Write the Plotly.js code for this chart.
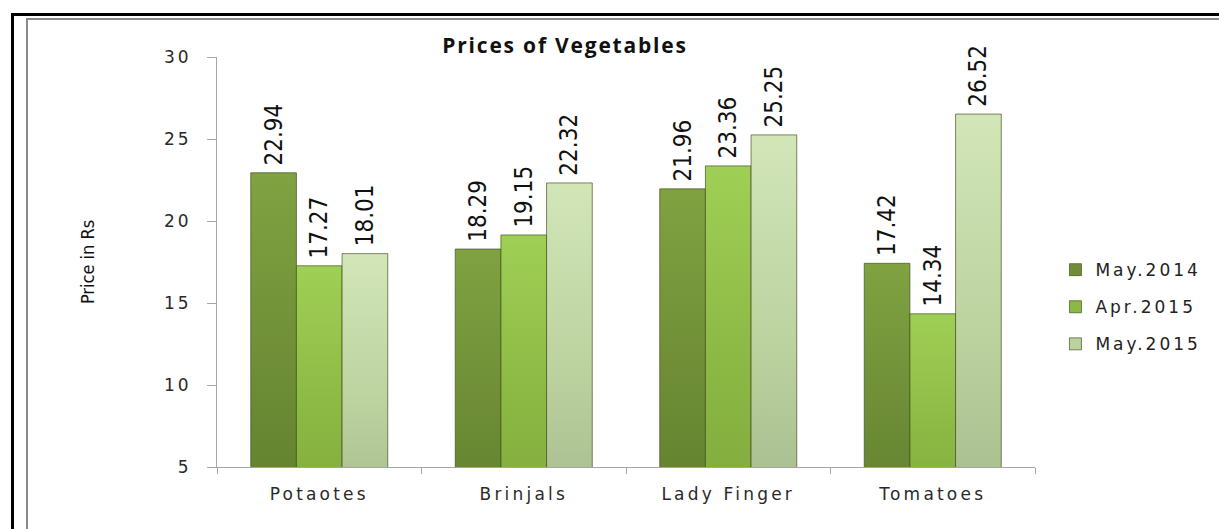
<!DOCTYPE html>
<html>
<head>
<meta charset="utf-8">
<script src="https://cdn.plot.ly/plotly-3.0.1.min.js"></script>
<style>
  html, body { margin:0; padding:0; background:#fff; }
  #wrap { position:relative; width:1219px; height:529px; overflow:hidden; }
  #chart { position:absolute; left:0; top:0; width:1219px; height:529px; }
  .frame1 { position:absolute; left:11px; top:13px; width:1400px; height:700px; border-left:3px solid #000; border-top:3px solid #000; pointer-events:none; }
  .frame2 { position:absolute; left:26px; top:18px; width:1400px; height:700px; border-left:2px solid #8a8a8a; border-top:2px solid #8a8a8a; pointer-events:none; }
  .xtick text { letter-spacing: 3.2px; }
  .legendtext { letter-spacing: 3px; }
  .ytick text { letter-spacing: 3px; }
  .gtitle { letter-spacing: 1.8px; }
</style>
</head>
<body>
<div id="wrap">
  <div id="chart"></div>
  <div class="frame1"></div>
  <div class="frame2"></div>
</div>
<script>
const categories = ["Potaotes", "Brinjals", "Lady Finger", "Tomatoes"];
const seriesNames = ["May.2014", "Apr.2015", "May.2015"];
const may2014 = [22.94, 18.29, 21.96, 17.42];
const apr2015 = [17.27, 19.15, 23.36, 14.34];
const may2015 = [18.01, 22.32, 25.25, 26.52];
const seriesValues = [may2014, apr2015, may2015];
const yTicks = [5, 10, 15, 20, 25, 30];
const colors = ["#6f8e37", "#8cb944", "#bcd29f"];
const gradTop = ["#80a241", "#a0cf55", "#d2e6b8"];
const gradBot = ["#5f7d2b", "#7ea63a", "#a2b689"];

const labelFont = { family: "Liberation Sans Narrow, DejaVu Sans Condensed, Arial Narrow, sans-serif", size: 24, color: "#111" };

const traces = seriesValues.map((vals, i) => ({
  type: "bar",
  name: seriesNames[i],
  x: categories,
  y: vals,
  legendgroup: "g" + i,
  marker: { color: colors[i], line: { color: "rgba(55,75,25,0.65)", width: 1 } },
  text: vals.map(v => "\u2009" + v.toFixed(2)),
  textposition: "outside",
  textangle: -90,
  textfont: labelFont,
  constraintext: "none",
  cliponaxis: false,
  hoverinfo: "x+y+name"
}));

const layout = {
  width: 1219, height: 529,
  margin: { l: 217, r: 184, t: 57, b: 62 },
  paper_bgcolor: "rgba(0,0,0,0)",
  plot_bgcolor: "rgba(0,0,0,0)",
  barmode: "group",
  bargap: 0.33,
  bargroupgap: 0,
  showlegend: true,
  title: {
    text: "<b>Prices of Vegetables</b>",
    x: 565 / 1219, xanchor: "center",
    y: 1 - 46 / 529, yanchor: "middle",
    font: { family: "Open Sans, Liberation Sans, sans-serif", size: 21, color: "#111" }
  },
  xaxis: {
    type: "category",
    showline: true, linecolor: "#a6a6a6", linewidth: 1,
    ticks: "outside", ticklen: 6, tickcolor: "#a6a6a6", tickson: "boundaries",
    showgrid: false, zeroline: false,
    tickfont: { family: "DejaVu Sans, sans-serif", size: 17, color: "#2a2a2a" },
    ticklabelstandoff: 12
  },
  yaxis: {
    range: [5, 30],
    tickvals: yTicks,
    showline: true, linecolor: "#a6a6a6", linewidth: 1,
    ticks: "outside", ticklen: 9, tickcolor: "#a6a6a6",
    showgrid: false, zeroline: false,
    tickfont: { family: "DejaVu Sans, sans-serif", size: 17, color: "#2a2a2a" },
    ticklabelstandoff: 12,
    title: {
      text: "Price in Rs",
      font: { family: "Liberation Sans Narrow, DejaVu Sans Condensed, sans-serif", size: 18, color: "#111" },
      standoff: 64
    }
  },
  legend: {
    x: 1.025, xanchor: "left",
    y: 0.39, yanchor: "middle",
    traceorder: "grouped",
    tracegroupgap: 12,
    font: { family: "DejaVu Sans, sans-serif", size: 17, color: "#222" },
    bgcolor: "rgba(0,0,0,0)"
  }
};

Plotly.newPlot("chart", traces, layout, { staticPlot: true, displayModeBar: false }).then(gd => {
  const svg = gd.querySelector("svg.main-svg");
  const ns = "http://www.w3.org/2000/svg";
  let defs = svg.querySelector("defs");
  if (!defs) { defs = document.createElementNS(ns, "defs"); svg.insertBefore(defs, svg.firstChild); }
  gradTop.forEach((c, i) => {
    const g = document.createElementNS(ns, "linearGradient");
    g.setAttribute("id", "bargrad" + i);
    g.setAttribute("x1", "0"); g.setAttribute("y1", "0");
    g.setAttribute("x2", "0"); g.setAttribute("y2", "1");
    [[0, gradTop[i]], [0.5, colors[i]], [1, gradBot[i]]].forEach(([o, col]) => {
      const s = document.createElementNS(ns, "stop");
      s.setAttribute("offset", o); s.setAttribute("stop-color", col);
      g.appendChild(s);
    });
    defs.appendChild(g);
  });
  gd.querySelectorAll(".barlayer .trace.bars").forEach((tr, i) => {
    tr.querySelectorAll("path").forEach(p => { p.style.fill = "url(#bargrad" + i + ")"; });
  });
});
</script>
</body>
</html>
